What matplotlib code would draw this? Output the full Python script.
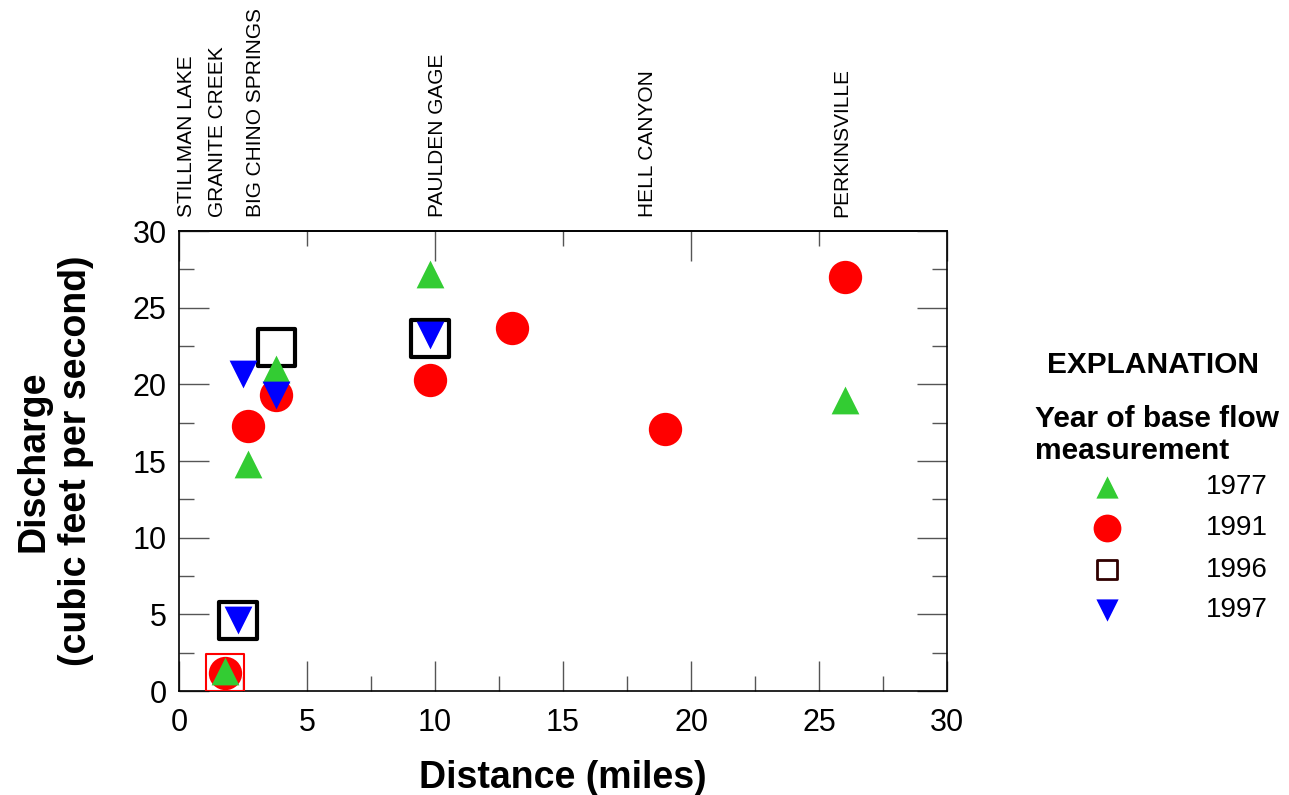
import matplotlib
matplotlib.use('Agg')
import matplotlib.pyplot as plt
from matplotlib.ticker import MultipleLocator
import matplotlib.transforms as mtransforms

plt.rcParams['font.family'] = ['Liberation Sans', 'DejaVu Sans']

# base flow measurements: distance (miles), discharge (cfs)
dist_1977 = [1.8, 2.7, 3.8, 9.8, 26.0]
flow_1977 = [1.3, 14.8, 21.0, 27.2, 19.0]

dist_1991 = [1.8, 2.7, 3.8, 9.8, 13.0, 19.0, 26.0]
flow_1991 = [1.2, 17.3, 19.3, 20.3, 23.7, 17.1, 27.0]

dist_1996 = [2.3, 3.8, 9.8]
flow_1996 = [4.6, 22.4, 23.0]
# Stillman Lake 1996 value is outlined in red
dist_1996_red = [1.8]
flow_1996_red = [1.2]

dist_1997 = [2.3, 2.5, 3.8, 9.8]
flow_1997 = [4.6, 20.7, 19.3, 23.2]

site_names = ['STILLMAN LAKE', 'GRANITE CREEK', 'BIG CHINO SPRINGS',
              'PAULDEN GAGE', 'HELL CANYON', 'PERKINSVILLE']
site_label_x = [0.3, 1.5, 3.0, 10.1, 18.3, 25.9]

years = ['1977', '1991', '1996', '1997']

fig = plt.figure(figsize=(12.89, 7.95), dpi=100)
ax = fig.add_axes([0.1389, 0.1308, 0.5958, 0.5786])

ax.scatter(dist_1996, flow_1996, marker='s', s=27**2, facecolors='none',
           edgecolors='black', linewidths=3, zorder=3)
ax.scatter(dist_1996_red, flow_1996_red, marker='s', s=27**2, facecolors='none',
           edgecolors='red', linewidths=1.5, zorder=3)
ax.scatter(dist_1991, flow_1991, marker='o', s=24**2, color='red',
           linewidths=0, zorder=4)
ax.scatter(dist_1977, flow_1977, marker='^', s=20**2, color='#33cc33',
           linewidths=0, zorder=5)
ax.scatter(dist_1997, flow_1997, marker='v', s=20**2, color='blue',
           linewidths=0, zorder=6)

ax.set_xlim(0, 30)
ax.set_ylim(0, 30)
ax.xaxis.set_major_locator(MultipleLocator(5))
ax.xaxis.set_minor_locator(MultipleLocator(2.5))
ax.yaxis.set_major_locator(MultipleLocator(5))
ax.yaxis.set_minor_locator(MultipleLocator(2.5))
ax.tick_params(which='both', direction='in', labelsize=22, width=1,
               color='#555555', right=True)
ax.tick_params(axis='x', which='major', length=21.6, pad=12)
ax.tick_params(axis='x', which='minor', length=10.8)
ax.tick_params(axis='y', which='major', length=21.6, pad=9)
ax.tick_params(axis='y', which='minor', length=10.8)
for sp in ax.spines.values():
    sp.set_linewidth(1.2)

top = ax.secondary_xaxis('top')
top.xaxis.set_major_locator(MultipleLocator(10))
top.xaxis.set_minor_locator(MultipleLocator(5))
top.tick_params(which='both', direction='in', labeltop=False, width=1,
                color='#555555')
top.tick_params(which='major', length=21.6)
top.tick_params(which='minor', length=10.8)
top.spines['top'].set_linewidth(1.2)

ax.set_xlabel('Distance (miles)', fontsize=27, fontweight='bold', labelpad=16)
ax.set_ylabel('Discharge\n(cubic feet per second)', fontsize=27,
              fontweight='bold', labelpad=28, linespacing=1.2)

# site names along the top
trans = mtransforms.blended_transform_factory(ax.transData, ax.transAxes)
for name, x in zip(site_names, site_label_x):
    ax.text(x, 1.03, name, transform=trans, rotation=90, ha='center',
            va='bottom', fontsize=15)

# explanation block
fig.text(0.8945, 0.541, 'EXPLANATION', ha='center', va='center',
         fontsize=21.5, fontweight='bold')
fig.text(0.803, 0.453, 'Year of base flow\nmeasurement', ha='left',
         va='center', fontsize=21.5, fontweight='bold', linespacing=1.15)

leg_ax = fig.add_axes([0.80, 0.2, 0.19, 0.22])
leg_ax.set_xlim(0, 1)
leg_ax.set_ylim(0, 1)
leg_ax.axis('off')
leg_rows = [0.85, 0.615, 0.38, 0.15]
leg_styles = [
    dict(marker='^', s=16**2, color='#33cc33', linewidths=0),
    dict(marker='o', s=20**2, color='red', linewidths=0),
    dict(marker='s', s=14**2, facecolors='none', edgecolors='#300000',
         linewidths=2),
    dict(marker='v', s=16**2, color='blue', linewidths=0),
]
for yr, yrow, style in zip(years, leg_rows, leg_styles):
    leg_ax.scatter([0.31], [yrow], **style)
    leg_ax.text(0.967, yrow, yr, ha='right', va='center', fontsize=20)

fig.savefig('out.png', dpi=100)
